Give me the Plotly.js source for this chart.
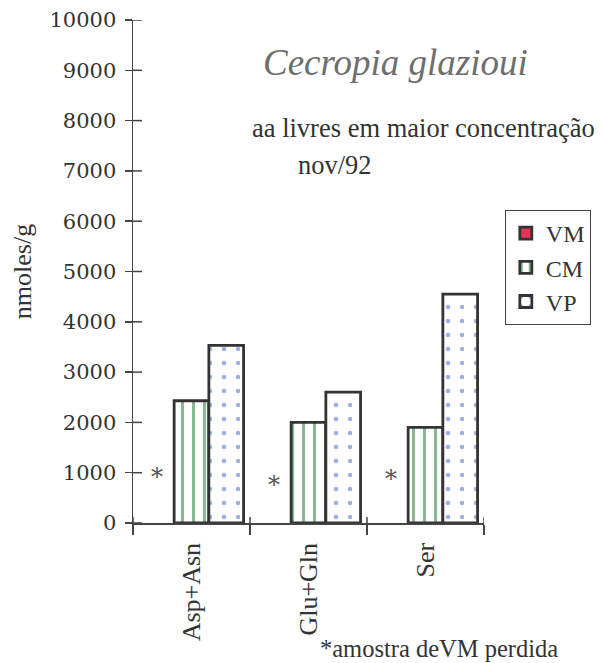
<!DOCTYPE html>
<html>
<head>
<meta charset="utf-8">
<script src="https://cdn.plot.ly/plotly-3.0.1.min.js"></script>
<style>html,body{margin:0;padding:0;background:#fff;}#chart{width:603px;height:663px;}</style>
</head>
<body>
<div id="chart"></div>
<script>
// ---- data ----
const categories = ['Asp+Asn', 'Glu+Gln', 'Ser'];
const seriesNames = ['VM', 'CM', 'VP'];
const vmValues = [null, null, null];          // amostra de VM perdida
const cmValues = [2430, 2000, 1900];
const vpValues = [3530, 2600, 4550];
const vmMissingMarkY = [1050, 900, 1010];     // height of the "*" notes
const yTickValues = [0, 1000, 2000, 3000, 4000, 5000, 6000, 7000, 8000, 9000, 10000];
const titleText = 'Cecropia glazioui';
const subtitleText = 'aa livres em maior concentração';
const dateText = 'nov/92';
const footnoteText = '*amostra deVM perdida';
const yTitleText = 'nmoles/g';

// ---- style ----
const SERIF = '"Liberation Serif", "Times New Roman", Times, serif';
const NUMF = '"DejaVu Serif", "Liberation Serif", serif';
const INK = '#333333';
const AXIS = '#444444';
const OUTLINE = {color: '#333333', width: 2.8};

// plot-area pixel geometry helpers (for text placement only)
const L = 133, R = 487, T = 20, B = 523;
const px = x => (x - L) / (R - L);
const py = y => (B - y) / (B - T);

const traces = [
  {
    type: 'bar', name: seriesNames[0], x: categories, y: vmValues,
    marker: {color: '#e8335a', line: OUTLINE}
  },
  {
    type: 'bar', name: seriesNames[1], x: categories, y: cmValues,
    marker: {color: '#ffffff', line: OUTLINE,
      pattern: {shape: '|', fgcolor: '#16702a', size: 11, solidity: 0.28, fillmode: 'overlay'}}
  },
  {
    type: 'bar', name: seriesNames[2], x: categories, y: vpValues,
    marker: {color: '#ffffff', line: OUTLINE,
      pattern: {shape: '.', fgcolor: '#3a62c0', size: 14, solidity: 0.08, fillmode: 'overlay'}}
  }
];

const annotations = [
  {text: titleText, xref: 'paper', yref: 'paper', x: px(398), y: py(63),
   xanchor: 'center', yanchor: 'middle', showarrow: false,
   font: {family: SERIF, size: 37, color: '#6e6e6e', style: 'italic'}},
  {text: subtitleText, xref: 'paper', yref: 'paper', x: px(251), y: py(128),
   xanchor: 'left', yanchor: 'middle', showarrow: false,
   font: {family: SERIF, size: 26.5, color: INK}},
  {text: dateText, xref: 'paper', yref: 'paper', x: px(297), y: py(165),
   xanchor: 'left', yanchor: 'middle', showarrow: false,
   font: {family: SERIF, size: 26.5, color: INK}},
  {text: footnoteText, xref: 'paper', yref: 'paper', x: px(320), y: py(648),
   xanchor: 'left', yanchor: 'middle', showarrow: false,
   font: {family: SERIF, size: 24.5, color: INK}}
];
categories.forEach((c, i) => {
  annotations.push({
    text: '*', xref: 'x', yref: 'y', x: c, y: vmMissingMarkY[i],
    xshift: -35, yshift: -7, showarrow: false,
    font: {family: NUMF, size: 24, color: '#555'}
  });
});

// inner halves of the crossing tick marks, placed through the axes' own scales
const shapes = [];
yTickValues.forEach(v => {
  shapes.push({type: 'line', xref: 'paper', yref: 'y', xsizemode: 'pixel', xanchor: 0,
    x0: 0, x1: 9, y0: v, y1: v, line: {color: AXIS, width: 1.5}});
});
for (let i = 0; i <= categories.length; i++) {
  shapes.push({type: 'line', xref: 'x', yref: 'paper', ysizemode: 'pixel', yanchor: 0,
    x0: i - 0.5, x1: i - 0.5, y0: 0, y1: 6, line: {color: AXIS, width: 1.5}});
}

const layout = {
  width: 603, height: 663,
  margin: {l: L, r: 603 - R, t: T, b: 663 - B, pad: 0},
  paper_bgcolor: '#ffffff', plot_bgcolor: '#ffffff',
  barmode: 'group', bargap: 0.11, bargroupgap: 0,
  showlegend: true,
  font: {family: SERIF, color: INK},
  xaxis: {
    type: 'category', range: [-0.5, 2.5],
    showline: true, linecolor: AXIS, linewidth: 1.5,
    ticks: 'outside', tickson: 'boundaries', ticklen: 10, tickwidth: 1.5, tickcolor: AXIS,
    tickangle: -90, ticklabelstandoff: 8,
    tickfont: {family: SERIF, size: 26, color: INK},
    showgrid: false, zeroline: false
  },
  yaxis: {
    range: [0, 10000], tickvals: yTickValues, tickformat: 'd',
    showline: true, linecolor: AXIS, linewidth: 1.5,
    ticks: 'outside', ticklen: 7, tickwidth: 1.5, tickcolor: AXIS,
    ticklabelstandoff: 4,
    tickfont: {family: NUMF, size: 21, color: INK},
    showgrid: false, zeroline: false,
    title: {text: yTitleText, font: {family: SERIF, size: 26, color: INK}, standoff: 10}
  },
  legend: {
    x: px(508), xanchor: 'left', y: py(210), yanchor: 'top',
    bgcolor: '#ffffff', bordercolor: AXIS, borderwidth: 1,
    font: {family: SERIF, size: 24, color: INK},
    traceorder: 'normal', itemwidth: 30
  },
  shapes: shapes,
  annotations: annotations
};

Plotly.newPlot('chart', traces, layout, {displayModeBar: false, staticPlot: true});
</script>
</body>
</html>
